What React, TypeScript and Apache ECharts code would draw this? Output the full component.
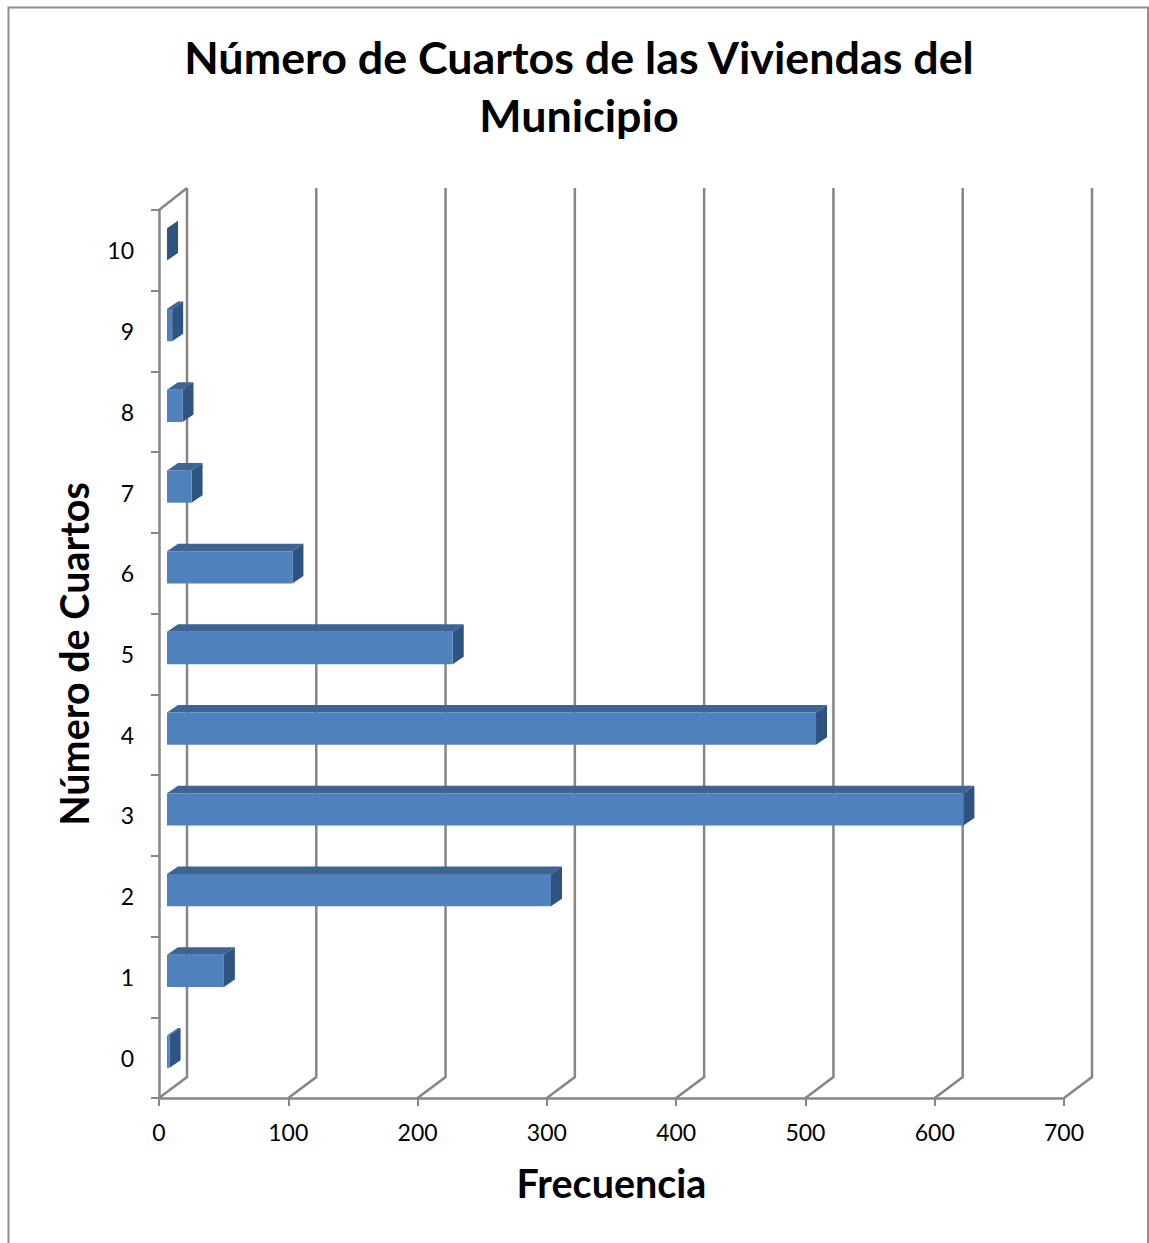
import React, { useEffect, useRef } from "react";
import * as echarts from "echarts";

const categories = ["0", "1", "2", "3", "4", "5", "6", "7", "8", "9", "10"];
const frecuencia = [2, 44, 297, 616, 502, 221, 97, 19, 12, 4, 0];
const wallTicks = [0, 100, 200, 300, 400, 500, 600, 700];
const titleText = "Número de Cuartos de las Viviendas del\nMunicipio";
const GRAY = "#868686";
const DEPTH_X = 28;
const DEPTH_Y = -21;

export default function App() {
  const ref = useRef<HTMLDivElement>(null);
  useEffect(() => {
    const chart = echarts.init(ref.current!, undefined, { renderer: "svg" });
    const font = "Lato, 'Open Sans', sans-serif";
    chart.setOption({
      animation: false,
      backgroundColor: "#ffffff",
      textStyle: { fontFamily: font },
      title: {
        text: titleText,
        left: 574,
        top: 23,
        textAlign: "center",
        textStyle: { fontFamily: font, fontSize: 44.8, fontWeight: "bold", color: "#000", lineHeight: 58 },
      },
      graphic: [
        {
          type: "polyline",
          silent: true,
          shape: { points: [[8.5, 1243], [8.5, 7.5], [1148, 7.5], [1148, 1243]] },
          style: { stroke: "#8f8f8f", lineWidth: 2, fill: "none" },
        },
      ],
      grid: { left: 159, top: 210, width: 905, height: 888, containLabel: false },
      xAxis: {
        type: "value",
        min: 0,
        max: 700,
        interval: 100,
        name: "Frecuencia",
        nameLocation: "middle",
        nameGap: 64,
        nameTextStyle: { fontFamily: font, fontSize: 39.5, fontWeight: "bold", color: "#000" },
        axisLine: { show: true, lineStyle: { color: GRAY, width: 2.5 } },
        axisTick: { show: true, length: 8, lineStyle: { color: GRAY, width: 2 } },
        axisLabel: { fontFamily: font, fontSize: 23, color: "#000", margin: 22 },
        splitLine: { show: false },
      },
      yAxis: {
        type: "category",
        data: categories,
        name: "Número de Cuartos",
        nameLocation: "middle",
        nameGap: 66,
        nameTextStyle: { fontFamily: font, fontSize: 39.5, fontWeight: "bold", color: "#000" },
        axisLine: { show: true, onZero: false, lineStyle: { color: GRAY, width: 2.5 } },
        axisTick: { show: true, length: 8, alignWithLabel: false, lineStyle: { color: GRAY, width: 2 } },
        axisLabel: { fontFamily: font, fontSize: 23, color: "#000", margin: 25 },
        splitLine: { show: false },
      },
      series: [
        {
          type: "custom",
          name: "Paredes",
          silent: true,
          clip: false,
          z: 1,
          encode: { x: 0, y: 1 },
          data: wallTicks.map((v) => [v, 0]),
          renderItem: (params: any, api: any) => {
            const v = api.value(0);
            const half = api.size([0, 1])[1] / 2;
            const bottom = api.coord([v, 0]);
            const top = api.coord([v, 10]);
            const x0 = bottom[0];
            const yB = bottom[1] + half;
            const yT = top[1] - half;
            const lineStyle = { stroke: GRAY, lineWidth: 2.5, fill: "none" };
            const children: any[] = [
              {
                type: "polyline",
                shape: { points: [[x0, yB], [x0 + DEPTH_X, yB + DEPTH_Y], [x0 + DEPTH_X, yT + DEPTH_Y - 1]] },
                style: lineStyle,
              },
            ];
            if (v === 0) {
              children.push({
                type: "line",
                shape: { x1: x0, y1: yT, x2: x0 + DEPTH_X, y2: yT + DEPTH_Y - 1 },
                style: lineStyle,
              });
            }
            return { type: "group", children };
          },
        },
        {
          type: "custom",
          name: "Frecuencia",
          clip: false,
          z: 3,
          encode: { x: 0, y: 1 },
          data: frecuencia.map((v, i) => [v, i]),
          renderItem: (params: any, api: any) => {
            const v = api.value(0);
            const c = api.value(1);
            const slot = api.size([0, 1])[1];
            const h = slot * 0.4;
            const start = api.coord([0, c]);
            const end = api.coord([v, c]);
            const x0 = start[0] + 8;
            const x1 = end[0] + 8;
            const yBot = start[1] - 6 + h / 2;
            const yTop = yBot - h;
            const dx = 11;
            const dy = -7.5;
            return {
              type: "group",
              children: [
                {
                  type: "polygon",
                  shape: { points: [[x0, yTop], [x0 + dx, yTop + dy], [x1 + dx, yTop + dy], [x1, yTop]] },
                  style: { fill: "#3d6493" },
                },
                {
                  type: "polygon",
                  shape: { points: [[x1, yTop], [x1 + dx, yTop + dy], [x1 + dx, yBot + dy], [x1, yBot]] },
                  style: { fill: "#2f5482" },
                },
                {
                  type: "rect",
                  shape: { x: x0, y: yTop, width: x1 - x0, height: h },
                  style: { fill: "#4f81bd" },
                },
              ],
            };
          },
        },
      ],
    });
    return () => chart.dispose();
  }, []);
  return <div ref={ref} style={{ position: "absolute", left: 0, top: 0, width: 1149, height: 1243 }} />;
}
